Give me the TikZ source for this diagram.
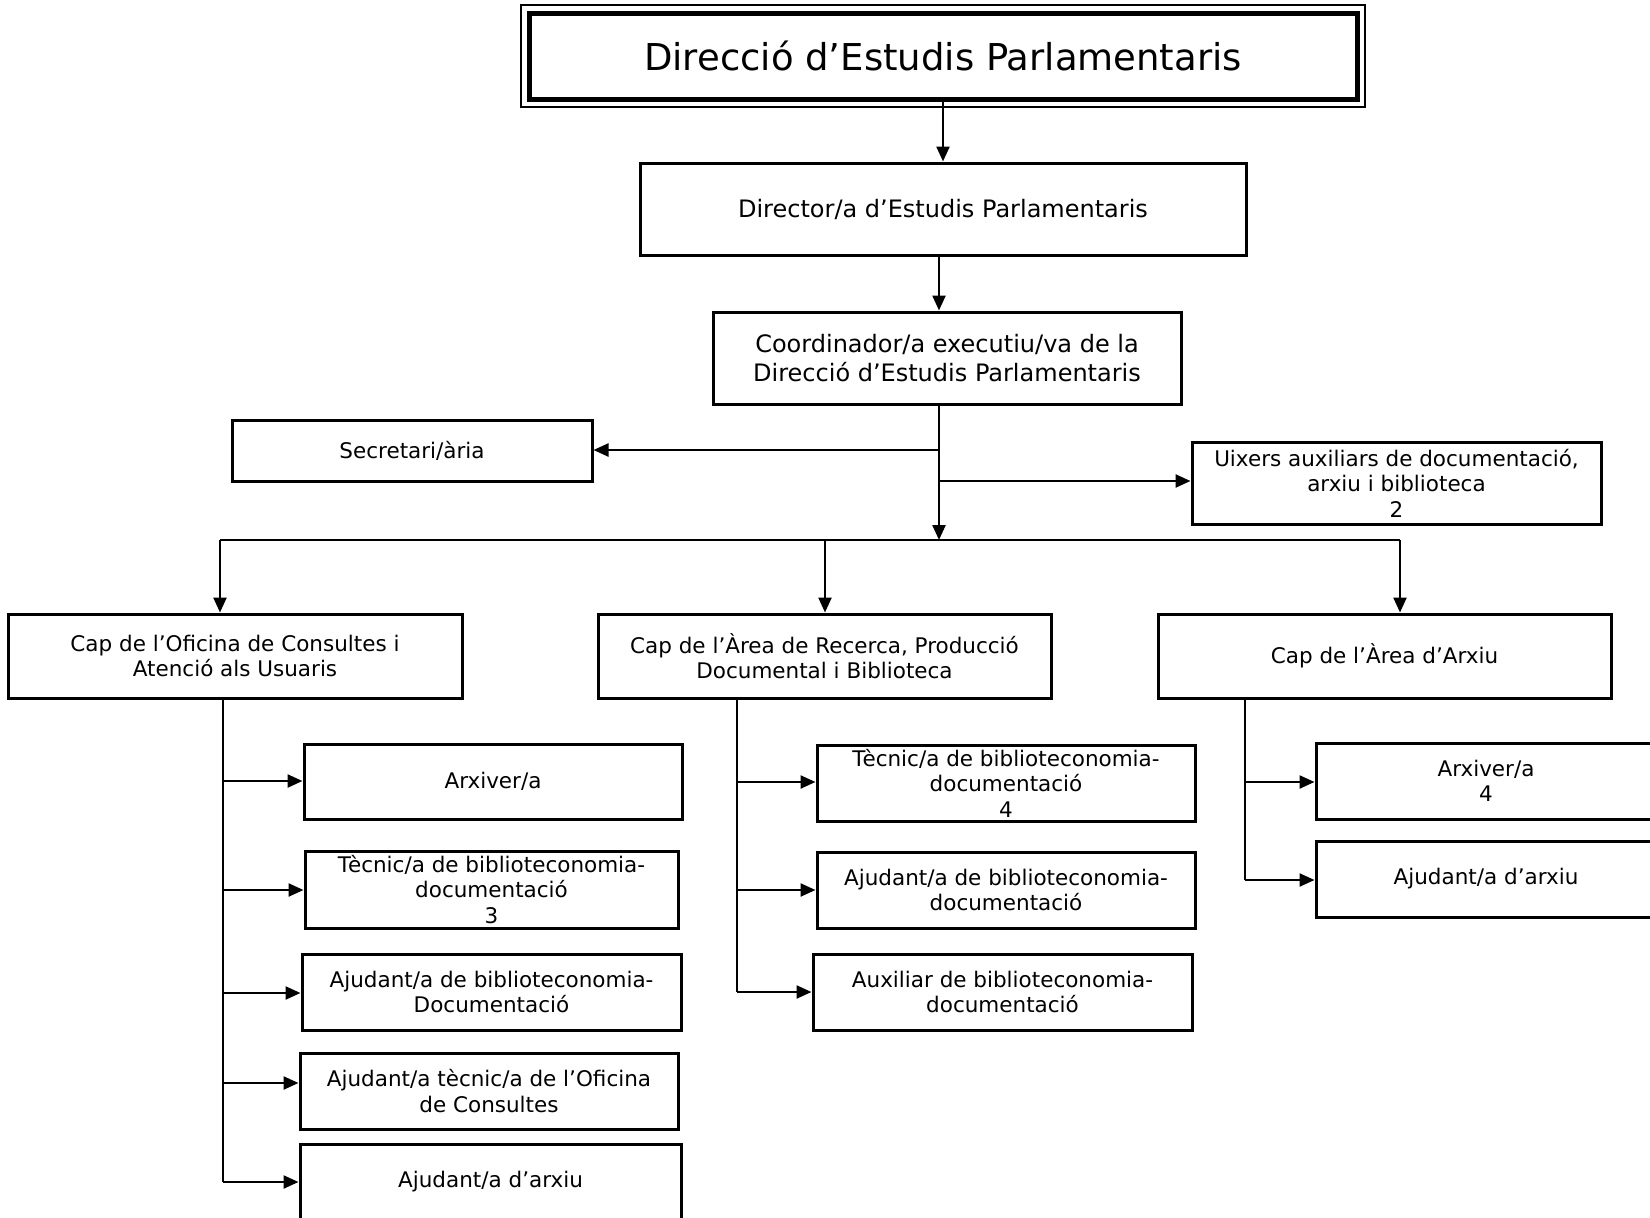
\documentclass[tikz,border=0pt]{standalone}
\usepackage{fontspec}
\setmainfont{DejaVu Sans}
\usetikzlibrary{arrows.meta}
\newcommand\fsS{\fontsize{21.5}{25.5}\selectfont}
\newcommand\fsL{\fontsize{24}{29}\selectfont}
\newcommand\fsT{\fontsize{37}{44}\selectfont}
\tikzset{
  box/.style={draw, line width=3pt, inner sep=0pt, align=center, font=\fsS},
  bigbox/.style={box, font=\fsL},
  arr/.style={line width=2.4pt, -{Triangle[length=15pt,width=13pt]}},
  ln/.style={line width=2.4pt}
}
\begin{document}
\begin{tikzpicture}[x=1pt,y=-1pt]
\useasboundingbox (0,0) rectangle (1650,1218);
\clip (0,0) rectangle (1650,1218);
\fill[white] (0,0) rectangle (1650,1218);

% top
\node[box, line width=5pt, font=\fsT, minimum width=828pt, minimum height=86pt] (top) at (943,56) {Direcció d’Estudis Parlamentaris};
\draw[line width=1.5pt] ([xshift=-5.5pt,yshift=5.5pt]top.north west) rectangle ([xshift=5.5pt,yshift=-5.5pt]top.south east);

\node[bigbox, minimum width=606pt, minimum height=92pt] (dir) at (943,209) {Director/a d’Estudis Parlamentaris};
\node[bigbox, minimum width=468pt, minimum height=92pt] (coord) at (947,358) {Coordinador/a executiu/va de la\\Direcció d’Estudis Parlamentaris};

\node[box, minimum width=360pt, minimum height=61pt] (sec) at (412,450.5) {Secretari/ària};
\node[box, minimum width=409pt, minimum height=82pt] (uix) at (1396.5,483) {Uixers auxiliars de documentació,\\arxiu i biblioteca\\2};

\node[box, minimum width=454pt, minimum height=84pt] (ofi) at (235,656) {Cap de l’Oficina de Consultes i\\Atenció als Usuaris};
\node[box, minimum width=453pt, minimum height=84pt] (rec) at (824.5,656) {Cap de l’Àrea de Recerca, Producció\\Documental i Biblioteca};
\node[box, minimum width=453pt, minimum height=84pt] (arx) at (1384.5,656) {Cap de l’Àrea d’Arxiu};

% left column
\node[box, minimum width=378pt, minimum height=75pt] (l1) at (493,781.5) {Arxiver/a};
\node[box, minimum width=373pt, minimum height=77pt] (l2) at (491.5,889.5) {Tècnic/a de biblioteconomia-\\documentació\\3};
\node[box, minimum width=379pt, minimum height=76pt] (l3) at (491.5,992) {Ajudant/a de biblioteconomia-\\Documentació};
\node[box, minimum width=378pt, minimum height=76pt] (l4) at (489,1091) {Ajudant/a tècnic/a de l’Oficina\\de Consultes};
\node[box, minimum width=381pt, minimum height=76pt] (l5) at (490.5,1182) {Ajudant/a d’arxiu};

% middle column
\node[box, minimum width=378pt, minimum height=76pt] (m1) at (1006,783) {Tècnic/a de biblioteconomia-\\documentació\\4};
\node[box, minimum width=378pt, minimum height=76pt] (m2) at (1006,890) {Ajudant/a de biblioteconomia-\\documentació};
\node[box, minimum width=379pt, minimum height=76pt] (m3) at (1002.5,992) {Auxiliar de biblioteconomia-\\documentació};

% right column
\node[box, minimum width=340pt, minimum height=76pt] (r1) at (1486,781) {Arxiver/a\\4};
\node[box, minimum width=340pt, minimum height=76pt] (r2) at (1486,879) {Ajudant/a d’arxiu};

% coordinates
\coordinate (tk) at (939,540);
\coordinate (tsec) at (939,450);
\coordinate (tuix) at (939,481);
\coordinate (bl) at (220,540);
\coordinate (bm) at (825,540);
\coordinate (br) at (1400,540);

\draw[arr] (top.south) -- (dir.north);
\draw[arr] (dir.south -| tk) -- (coord.north -| tk);
\draw[arr] (coord.south -| tk) -- (tk);
\draw[arr] (tsec) -- (tsec -| sec.east);
\draw[arr] (tuix) -- (tuix -| uix.west);
\draw[ln] (bl) -- (br);
\draw[arr] (bl) -- (bl |- ofi.north);
\draw[arr] (bm) -- (bm |- rec.north);
\draw[arr] (br) -- (br |- arx.north);

% left branches
\coordinate (lt0) at (223,698);
\coordinate (lt1) at (223,781);
\coordinate (lt2) at (223,890);
\coordinate (lt3) at (223,993);
\coordinate (lt4) at (223,1083);
\coordinate (lt5) at (223,1182);
\draw[ln] (lt0) -- (lt5);
\draw[arr] (lt1) -- (lt1 -| l1.west);
\draw[arr] (lt2) -- (lt2 -| l2.west);
\draw[arr] (lt3) -- (lt3 -| l3.west);
\draw[arr] (lt4) -- (lt4 -| l4.west);
\draw[arr] (lt5) -- (lt5 -| l5.west);

% middle branches
\coordinate (mt0) at (737,698);
\coordinate (mt1) at (737,782);
\coordinate (mt2) at (737,890);
\coordinate (mt3) at (737,992);
\draw[ln] (mt0) -- (mt3);
\draw[arr] (mt1) -- (mt1 -| m1.west);
\draw[arr] (mt2) -- (mt2 -| m2.west);
\draw[arr] (mt3) -- (mt3 -| m3.west);

% right branches
\coordinate (rt0) at (1245,698);
\coordinate (rt1) at (1245,782);
\coordinate (rt2) at (1245,880);
\draw[ln] (rt0) -- (rt2);
\draw[arr] (rt1) -- (rt1 -| r1.west);
\draw[arr] (rt2) -- (rt2 -| r2.west);
\end{tikzpicture}
\end{document}
